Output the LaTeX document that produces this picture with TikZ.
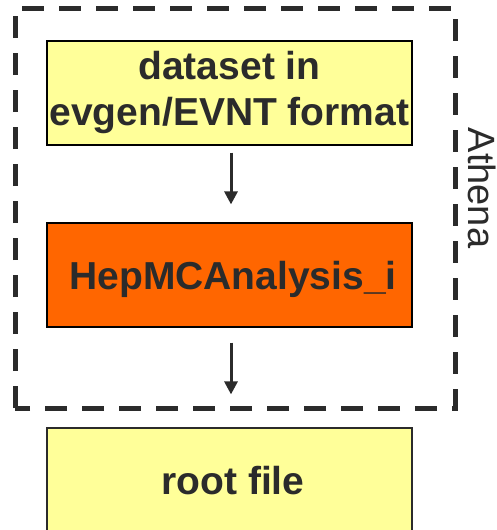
\documentclass[tikz,border=0pt]{standalone}
\usepackage{fontspec}
\setmainfont{Liberation Sans}
\usetikzlibrary{arrows.meta}
\definecolor{boxyellow}{HTML}{FFFF99}
\definecolor{boxorange}{HTML}{FF6600}
\definecolor{ink}{HTML}{2B2B2B}
\tikzset{
  stagebox/.style={draw=black, line width=1.2pt, minimum width=365pt, minimum height=104pt,
    inner sep=0pt, align=center, text=ink, font=\fontsize{39}{47}\selectfont\bfseries},
  flowarrow/.style={draw=ink, line width=3pt, -{Triangle[width=13pt,length=13pt]}},
  athenabox/.style={draw=ink, line width=5pt, dash pattern=on 22pt off 15pt},
}
\begin{document}
\begin{tikzpicture}[x=1pt,y=-1pt]
\useasboundingbox (0,0) rectangle (496,530);
\clip (0,0) rectangle (496,530);
\draw[athenabox] (15,408) -- (15,8) -- (455,8) -- (455,408) -- cycle;
\node[stagebox, fill=boxyellow] (ds) at (229.5,93) {dataset in\\[-1pt]evgen/EVNT format};
\node[stagebox, fill=boxorange, text height=28pt, text depth=0pt] (hep) at (229.5,275) {\hspace*{7pt}HepMCAnalysis\_i};
\node[stagebox, fill=boxyellow, draw=ink, text height=28pt, text depth=0pt] (root) at (229.5,480) {\hspace*{7pt}root file};
\node[rotate=-90, anchor=base, text=ink, font=\fontsize{38}{46}\selectfont] (athena) at (468,188) {Athena};
\draw[flowarrow, shorten <=7pt, shorten >=18pt] ([xshift=1.5pt]ds.south) -- ([xshift=1.5pt]hep.north);
\draw[flowarrow, shorten <=15pt, shorten >=33pt] ([xshift=1.5pt]hep.south) -- ([xshift=1.5pt]root.north);
\end{tikzpicture}
\end{document}
